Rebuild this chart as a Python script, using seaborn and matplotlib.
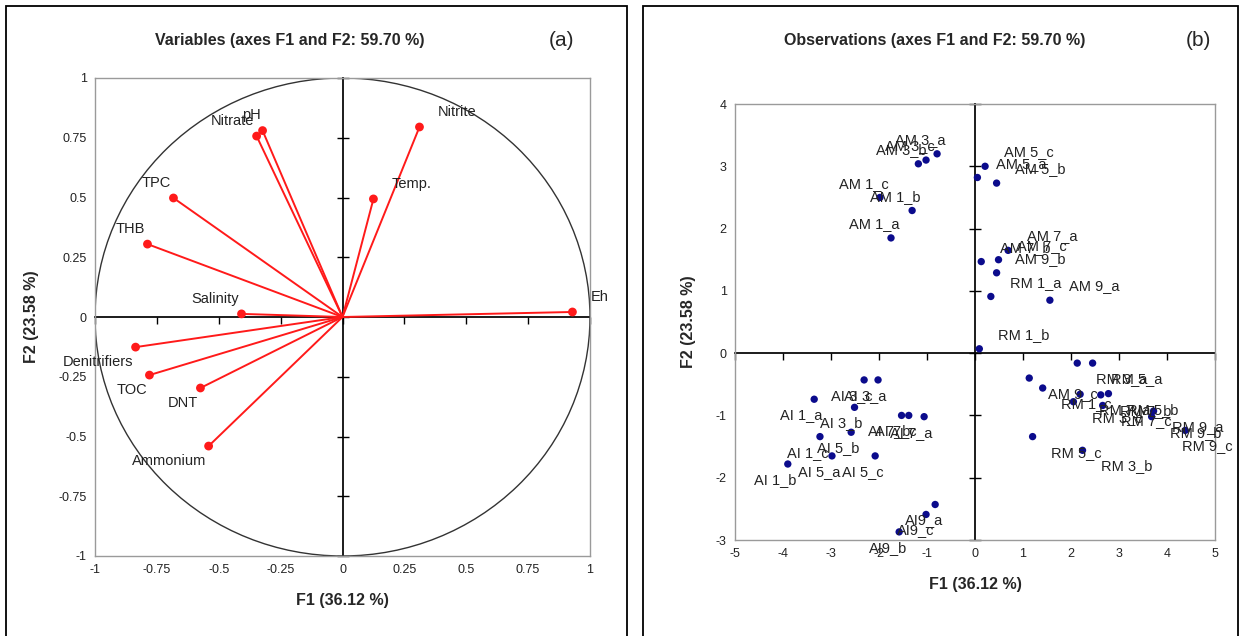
import matplotlib
matplotlib.use("Agg")
import matplotlib.pyplot as plt
from matplotlib.patches import Circle, Rectangle
import pandas as pd
import seaborn as sns

# --- variables (correlation circle) ---
variables = ['pH', 'Nitrate', 'TPC', 'THB', 'Salinity', 'Nitrite', 'Temp.', 'Eh',
             'Denitrifiers', 'TOC', 'DNT', 'Ammonium']
f1_var = [-0.323, -0.347, -0.683, -0.788, -0.408, 0.311, 0.125, 0.929,
          -0.836, -0.780, -0.574, -0.541]
f2_var = [0.780, 0.757, 0.498, 0.305, 0.013, 0.795, 0.494, 0.021,
          -0.126, -0.243, -0.297, -0.540]

# --- observations (scores) ---
obs_labels = ['AM 1_a', 'AM 1_b', 'AM 1_c', 'AM 3_a', 'AM 3_b', 'AM 3_c',
              'AM 5_a', 'AM 5_b', 'AM 5_c', 'AM 7_a', 'AM 7_b', 'AM 7_c',
              'AM 9_a', 'AM 9_b', 'AM 9_c',
              'AI 1_a', 'AI 1_b', 'AI 1_c', 'AI 3_a', 'AI 3_b', 'AI 3_c',
              'AI 5_a', 'AI 5_b', 'AI 5_c', 'AI 7_a', 'AI 7_b', 'AI 7_c',
              'AI9_a', 'AI9_b', 'AI9_c',
              'RM 1_a', 'RM 1_b', 'RM 1_c', 'RM 3_a', 'RM 3_b', 'RM 3_c',
              'RM 5_a', 'RM 5_b', 'RM 5_c', 'RM 7_a', 'RM 7_b', 'RM 7_c',
              'RM 9_a', 'RM 9_b', 'RM 9_c']
f1_obs = [-1.75, -1.31, -1.98, -0.79, -1.18, -1.02,
          0.05, 0.45, 0.21, 0.69, 0.13, 0.49,
          1.56, 0.45, 1.13,
          -3.35, -3.90, -3.23, -2.02, -2.51, -2.31,
          -2.98, -2.58, -2.08, -1.06, -1.53, -1.38,
          -0.83, -1.58, -1.02,
          0.33, 0.09, 1.41, 2.13, 2.24, 2.05,
          2.45, 2.78, 1.20, 2.19, 2.62, 2.66,
          3.72, 3.68, 4.38]
f2_obs = [1.85, 2.29, 2.50, 3.20, 3.04, 3.10,
          2.82, 2.73, 3.00, 1.65, 1.47, 1.50,
          0.85, 1.29, -0.40,
          -0.74, -1.78, -1.34, -0.43, -0.87, -0.43,
          -1.65, -1.27, -1.65, -1.02, -1.00, -1.00,
          -2.43, -2.87, -2.59,
          0.91, 0.07, -0.56, -0.16, -1.56, -0.78,
          -0.16, -0.65, -1.34, -0.66, -0.67, -0.84,
          -0.93, -1.02, -1.24]

var_ticks = [-1, -0.75, -0.5, -0.25, 0, 0.25, 0.5, 0.75, 1]
var_ticklabels = ['-1', '-0.75', '-0.5', '-0.25', '0', '0.25', '0.5', '0.75', '1']
obs_xticks = list(range(-5, 6))
obs_yticks = list(range(-3, 5))

df_var = pd.DataFrame({'F1': f1_var, 'F2': f2_var, 'name': variables})
df_obs = pd.DataFrame({'F1': f1_obs, 'F2': f2_obs, 'name': obs_labels})

sns.set_theme(style='white')
plt.rcParams['font.family'] = ['Liberation Sans', 'DejaVu Sans']
plt.rcParams['axes.unicode_minus'] = False

W, H = 1244, 636
fig = plt.figure(figsize=(W / 100, H / 100), dpi=100)

# panel frames
for x0, x1 in [(6, 627), (643, 1238)]:
    fig.add_artist(Rectangle((x0 / W, -0.05), (x1 - x0) / W, 1.05 - 6 / H,
                             transform=fig.transFigure, fill=False,
                             ec='black', lw=1.3))

ax1 = fig.add_axes([95 / W, 1 - 556 / H, 495 / W, 478 / H])
ax2 = fig.add_axes([735 / W, 1 - 540 / H, 480 / W, 436 / H])


def style_axes(ax, xlim, ylim, xticks, yticks, xtl=None, ytl=None):
    ax.set_xlim(xlim)
    ax.set_ylim(ylim)
    ax.set_xticks(xticks)
    ax.set_yticks(yticks)
    if xtl is not None:
        ax.set_xticklabels(xtl)
        ax.set_yticklabels(ytl)
    ax.tick_params(length=0, labelsize=9, pad=6, labelcolor='#222222')
    for s in ax.spines.values():
        s.set_color('#9a9a9a')
        s.set_linewidth(1.0)
    # zero axes with tick marks
    ypos = (0 - ylim[0]) / (ylim[1] - ylim[0])
    xpos = (0 - xlim[0]) / (xlim[1] - xlim[0])
    sx = ax.secondary_xaxis(ypos)
    sx.set_alignment('bottom')
    sx.set_xticks(xticks)
    sx.tick_params(direction='out', length=5, width=1, color='black',
                   labelbottom=False, labeltop=False)
    sx.spines['bottom'].set_color('black')
    sx.spines['top'].set_visible(False)
    sy = ax.secondary_yaxis(xpos)
    sy.set_alignment('left')
    sy.set_yticks(yticks)
    sy.tick_params(direction='inout', length=8, width=1, color='black',
                   labelleft=False, labelright=False)
    sy.spines['left'].set_color('black')
    sy.spines['right'].set_visible(False)


style_axes(ax1, (-1, 1), (-1, 1), var_ticks, var_ticks, var_ticklabels, var_ticklabels)
style_axes(ax2, (-5, 5), (-3, 4), obs_xticks, obs_yticks)

# correlation circle
ax1.add_patch(Circle((0, 0), 1, fill=False, ec='#333333', lw=1.0, zorder=1))

# variable vectors
for x, y in zip(df_var['F1'], df_var['F2']):
    ax1.plot([0, x], [0, y], color='#ff1a1a', lw=1.4, zorder=2)
sns.scatterplot(data=df_var, x='F1', y='F2', ax=ax1, color='#ff1a1a',
                s=40, edgecolor='none', zorder=3, legend=False)
for _, r in df_var.iterrows():
    dx = 13 if r.F1 > 0 else -1.5
    dy = 11 if r.F2 > 0 else -11
    ax1.annotate(r['name'], (r.F1, r.F2), xytext=(dx, dy),
                 textcoords='offset points', ha='left' if r.F1 > 0 else 'right',
                 va='center', fontsize=10.5, color='#222222',
                 annotation_clip=False)

# observations
label_shift = {'RM 9_c': (-2, -11.5)}
sns.scatterplot(data=df_obs, x='F1', y='F2', ax=ax2, color='#0b0b8c',
                s=28, edgecolor='none', zorder=3, legend=False)
for _, r in df_obs.iterrows():
    dx = 13.5 if r.F1 > 0 else 6
    dy = 10 if r.F2 > 0 else -11.5
    dx, dy = label_shift.get(r['name'], (dx, dy))
    ax2.annotate(r['name'], (r.F1, r.F2), xytext=(dx, dy),
                 textcoords='offset points', ha='left' if r.F1 > 0 else 'right',
                 va='center', fontsize=10.5, color='#222222',
                 annotation_clip=False)

for ax in (ax1, ax2):
    ax.set_xlabel('F1 (36.12 %)', fontsize=11.5, fontweight='bold', labelpad=12)
    ax.set_ylabel('F2 (23.58 %)', fontsize=11.5, fontweight='bold', labelpad=14)

fig.text(290 / W, 1 - 40 / H, 'Variables (axes F1 and F2: 59.70 %)',
         ha='center', va='center', fontsize=11.5, fontweight='bold')
fig.text(562 / W, 1 - 40 / H, '(a)', ha='center', va='center', fontsize=15)
fig.text(935 / W, 1 - 40 / H, 'Observations (axes F1 and F2: 59.70 %)',
         ha='center', va='center', fontsize=11.5, fontweight='bold')
fig.text(1198 / W, 1 - 40 / H, '(b)', ha='center', va='center', fontsize=15)

fig.savefig('out.png', dpi=100)
